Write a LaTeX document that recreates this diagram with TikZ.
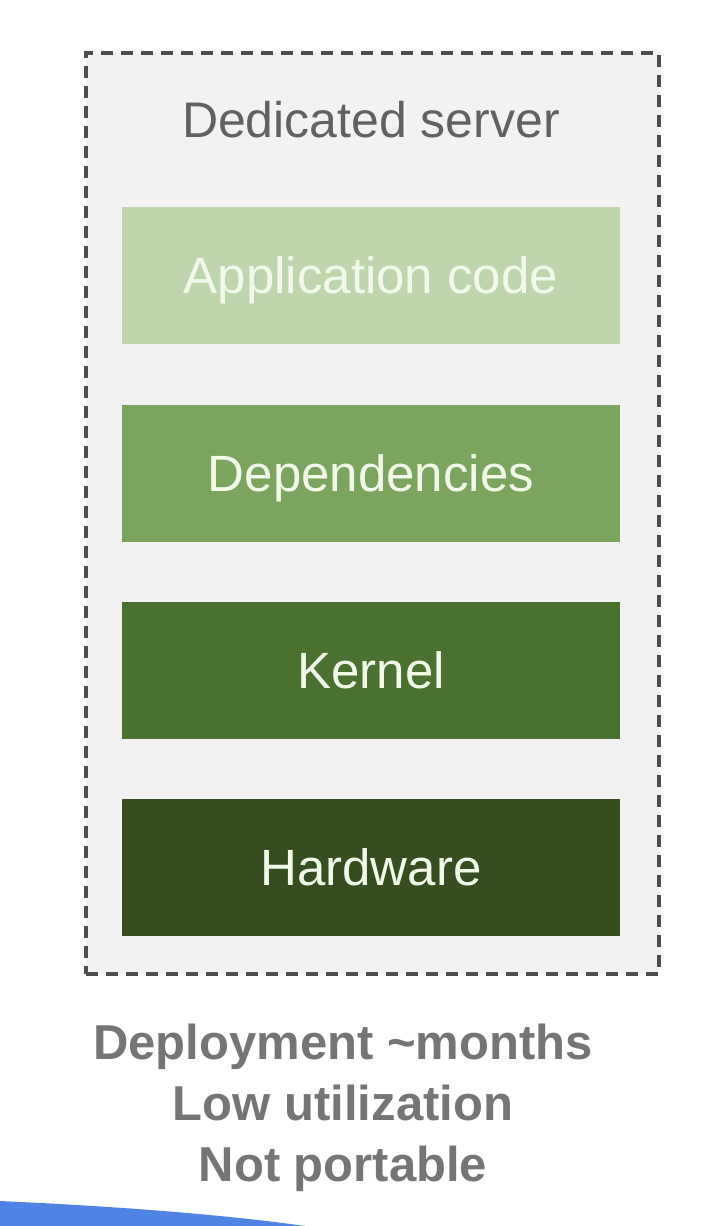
\documentclass[tikz,border=0pt]{standalone}
\usepackage{fontspec}
\setmainfont{Liberation Sans}
\definecolor{panel}{HTML}{F2F2F2}
\definecolor{dashgray}{HTML}{4D4D4D}
\definecolor{titlegray}{HTML}{616161}
\definecolor{notegray}{HTML}{757575}
\definecolor{gA}{HTML}{BFD5AE}
\definecolor{gB}{HTML}{7BA45F}
\definecolor{gC}{HTML}{4B7130}
\definecolor{gD}{HTML}{354D1F}
\definecolor{layertext}{HTML}{F1FAE8}
\definecolor{blueband}{HTML}{4F84E6}
\begin{document}
\begin{tikzpicture}[x=1pt,y=-1pt,
  layer/.style={rectangle, inner sep=0pt, minimum width=498pt, minimum height=137pt,
    text=layertext, font=\fontsize{51}{60}\selectfont, text height=36.5pt, text depth=0pt},
  titletext/.style={inner sep=0pt, text=titlegray, font=\fontsize{50}{60}\selectfont,
    text height=35.8pt, text depth=0pt},
  notetext/.style={inner sep=0pt, text=notegray, font=\bfseries\fontsize{49}{58}\selectfont,
    text height=35.1pt, text depth=0pt}]
\useasboundingbox (0,0) rectangle (724,1226);
\fill[white] (0,0) rectangle (724,1226);
% blue band at bottom-left
\fill[blueband] (0,1201) .. controls (110,1206) and (220,1214) .. (305,1226) -- (0,1226) -- cycle;
% dashed server frame
\node[draw=dashgray, line width=3.5pt, dash pattern=on 12pt off 8pt, fill=panel,
  minimum width=573pt, minimum height=921pt, inner sep=0pt, anchor=north west] (server) at (84,51) {};
\node[titletext] (title) at (371,119.5) {Dedicated server};
\node[layer, fill=gA] (app) at (371,275.5) {Application code};
\node[layer, fill=gB] (deps) at (371,473) {Dependencies};
\node[layer, fill=gC] (kernel) at (371,670) {Kernel};
\node[layer, fill=gD] (hw) at (371,867) {Hardware};
% notes
\node[notetext] (n1) at (343,1042) {Deployment \char`~months};
\node[notetext] (n2) at (343,1103) {Low utilization};
\node[notetext] (n3) at (343,1164) {Not portable};
\end{tikzpicture}
\end{document}
